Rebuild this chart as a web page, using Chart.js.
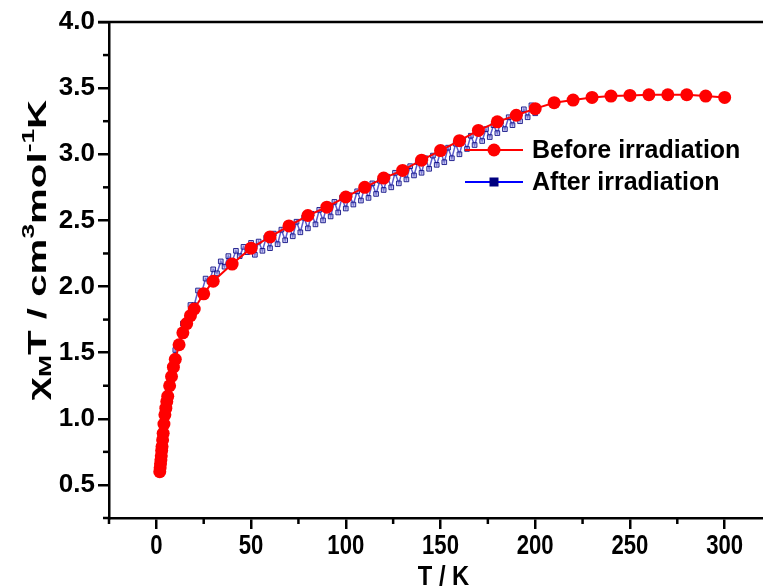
<!DOCTYPE html>
<html>
<head>
<meta charset="utf-8">
<script src="https://cdn.jsdelivr.net/npm/chart.js@4.4.0/dist/chart.umd.min.js"></script>
<style>
html, body { margin: 0; padding: 0; background: #fff; overflow: hidden; }
canvas { display: block; }
</style>
</head>
<body>
<canvas id="myChart" width="790" height="587"></canvas>
<script>
// chi_M T data
var tBefore = [1.8, 2, 2.2, 2.4, 2.6, 2.8, 3, 3.3, 3.6, 4, 4.5, 5, 5.5, 6, 7, 8, 9, 10, 12, 14, 16, 18, 20, 25, 30, 40,
    50, 60, 70, 80, 90, 100, 110, 120, 130, 140, 150, 160, 170, 180, 190, 200, 210, 220, 230, 240, 250, 260, 270, 280, 290, 300];
var chiBefore = [0.60, 0.63, 0.66, 0.69, 0.72, 0.76, 0.79, 0.84, 0.89, 0.96, 1.03, 1.08, 1.13, 1.17, 1.25, 1.32, 1.39, 1.45, 1.56, 1.65, 1.72, 1.78, 1.83, 1.945, 2.04, 2.17,
    2.29, 2.375, 2.458, 2.537, 2.60, 2.677, 2.75, 2.82, 2.878, 2.955, 3.028, 3.103, 3.18, 3.245, 3.295, 3.345, 3.39, 3.41, 3.43, 3.44, 3.445, 3.45, 3.45, 3.45, 3.44, 3.43];

var tAfter = [2, 2.5, 3, 3.5, 4, 4.5, 5, 5.5, 6, 6.5, 7, 7.5, 8, 8.5, 9, 9.5, 10,
    12, 14, 16, 18, 20, 22, 24, 26, 28, 30, 32, 34, 36, 38, 40, 42, 44, 46, 48, 50,
    52, 54, 56, 58, 60, 62, 64, 66, 68, 70, 72, 74, 76, 78, 80, 82, 84, 86, 88, 90,
    92, 94, 96, 98, 100, 102, 104, 106, 108, 110, 112, 114, 116, 118, 120, 122, 124, 126, 128, 130,
    132, 134, 136, 138, 140, 142, 144, 146, 148, 150, 152, 154, 156, 158, 160, 162, 164, 166, 168, 170,
    172, 174, 176, 178, 180, 182, 184, 186, 188, 190, 192, 194, 196, 198, 200];
var chiAfter = [0.64, 0.70, 0.82, 0.85, 0.98, 0.99, 1.11, 1.11, 1.21, 1.21, 1.30, 1.29, 1.38, 1.37, 1.46, 1.44, 1.52,
    1.58, 1.72, 1.73, 1.86, 1.86, 1.97, 1.96, 2.06, 2.04, 2.13, 2.10, 2.19, 2.15, 2.23, 2.19, 2.27, 2.23, 2.30, 2.26, 2.33,
    2.24, 2.34, 2.27, 2.37, 2.29, 2.40, 2.32, 2.43, 2.35, 2.46, 2.38, 2.49, 2.41, 2.52, 2.44, 2.55, 2.47, 2.58, 2.50, 2.61,
    2.53, 2.64, 2.56, 2.67, 2.59, 2.69, 2.62, 2.72, 2.65, 2.75, 2.67, 2.78, 2.70, 2.80, 2.73, 2.83, 2.75, 2.86, 2.78, 2.88,
    2.81, 2.91, 2.84, 2.94, 2.86, 2.97, 2.89, 2.99, 2.92, 3.02, 2.94, 3.05, 2.97, 3.08, 3.00, 3.11, 3.04, 3.14, 3.07, 3.16,
    3.10, 3.19, 3.13, 3.22, 3.16, 3.25, 3.19, 3.28, 3.22, 3.31, 3.25, 3.34, 3.28, 3.37, 3.31];

var xTickLabels = [0, 50, 100, 150, 200, 250, 300];
var yTickLabels = [0.5, 1.0, 1.5, 2.0, 2.5, 3.0, 3.5, 4.0];
var seriesNames = ['Before irradiation', 'After irradiation'];

function toPoints(xs, ys) {
    var pts = [];
    for (var i = 0; i < xs.length; i++) pts.push({x: xs[i], y: ys[i]});
    return pts;
}
function isLabel(list, v) {
    for (var i = 0; i < list.length; i++) if (Math.abs(list[i] - v) < 1e-6) return true;
    return false;
}

var sansFont = '"Liberation Sans", Arial, sans-serif';

// narrow-looking text: squeeze horizontally
function narrowText(ctx, text, x, y, size, squeeze) {
    ctx.save();
    ctx.font = 'bold ' + size + 'px ' + sansFont;
    ctx.textAlign = 'center';
    ctx.textBaseline = 'alphabetic';
    ctx.translate(x, y);
    ctx.scale(squeeze, 1);
    ctx.fillText(text, 0, 0);
    ctx.restore();
}

// minor ticks, box top line, x tick labels, axis titles and the legend
var decorations = {
    id: 'decorations',
    afterDraw: function (chart) {
        var ctx = chart.ctx, a = chart.chartArea;
        var xs = chart.scales.x, ys = chart.scales.y;
        ctx.save();
        ctx.strokeStyle = '#000';
        ctx.lineWidth = 2.5;
        ctx.beginPath();
        ctx.moveTo(a.left - 11, a.top);
        ctx.lineTo(a.right, a.top);
        ctx.stroke();
        xs.ticks.forEach(function (t) {
            if (isLabel(xTickLabels, t.value)) return;
            var px = xs.getPixelForValue(t.value);
            ctx.beginPath(); ctx.moveTo(px, a.bottom); ctx.lineTo(px, a.bottom + 6); ctx.stroke();
        });
        ys.ticks.forEach(function (t) {
            if (isLabel(yTickLabels, t.value)) return;
            var py = ys.getPixelForValue(t.value);
            ctx.beginPath(); ctx.moveTo(a.left, py); ctx.lineTo(a.left - 6, py); ctx.stroke();
        });
        ctx.fillStyle = '#000';
        xTickLabels.forEach(function (v) {
            narrowText(ctx, String(v), xs.getPixelForValue(v), 554, 27, 0.82);
        });
        narrowText(ctx, 'T / K', (a.left + a.right) / 2 + 3, 585, 27, 0.88);

        // y title with sub/superscripts, stretched along its length
        var parts = [['\u03c7', 0], ['M', 1], ['T / cm', 0], ['3', 2], ['mol', 0], ['-1', 2], ['K', 0]];
        var big = 'bold 26px ' + sansFont, small = 'bold 17px ' + sansFont;
        var w = 0;
        parts.forEach(function (p) { ctx.font = p[1] ? small : big; w += ctx.measureText(p[0]).width; });
        ctx.translate(46, 250);
        ctx.rotate(-Math.PI / 2);
        ctx.scale(1.55, 1);
        ctx.textAlign = 'left';
        ctx.textBaseline = 'alphabetic';
        var x = -w / 2;
        parts.forEach(function (p) {
            ctx.font = p[1] ? small : big;
            var dy = p[1] === 1 ? 5 : (p[1] === 2 ? -12 : 0);
            ctx.fillText(p[0], x, dy);
            x += ctx.measureText(p[0]).width;
        });
        ctx.restore();

        // legend
        ctx.save();
        ctx.font = 'bold 25px ' + sansFont;
        ctx.textBaseline = 'middle';
        var rows = [150, 182];
        ctx.lineWidth = 2;
        ctx.strokeStyle = '#ff0000';
        ctx.beginPath(); ctx.moveTo(465, rows[0]); ctx.lineTo(523, rows[0]); ctx.stroke();
        ctx.fillStyle = '#ff0000';
        ctx.beginPath(); ctx.arc(494, rows[0], 6.5, 0, Math.PI * 2); ctx.fill();
        ctx.strokeStyle = '#0000ff';
        ctx.beginPath(); ctx.moveTo(465, rows[1]); ctx.lineTo(523, rows[1]); ctx.stroke();
        ctx.fillStyle = '#000080';
        ctx.fillRect(489.5, rows[1] - 4.5, 9, 9);
        ctx.fillStyle = '#000';
        ctx.fillText(seriesNames[0], 532, rows[0] + 1);
        ctx.fillText(seriesNames[1], 532, rows[1] + 1);
        ctx.restore();
    }
};

var ctx = document.getElementById('myChart').getContext('2d');
var myChart = new Chart(ctx, {
    type: 'scatter',
    data: {
        datasets: [{
            label: seriesNames[0],
            data: toPoints(tBefore, chiBefore),
            showLine: true,
            borderColor: '#ff0000',
            borderWidth: 2,
            pointStyle: 'circle',
            pointRadius: 6.5,
            pointBackgroundColor: '#ff0000',
            pointBorderWidth: 0
        }, {
            label: seriesNames[1],
            data: toPoints(tAfter, chiAfter),
            showLine: true,
            borderColor: 'rgba(50,50,190,0.8)',
            borderWidth: 1.5,
            pointStyle: 'rect',
            pointRadius: 3.3,
            pointBorderColor: 'rgba(10,10,130,0.85)',
            pointBackgroundColor: 'rgba(150,150,225,0.5)',
            pointBorderWidth: 1
        }]
    },
    options: {
        responsive: false,
        animation: false,
        devicePixelRatio: 1,
        layout: { padding: { top: 22, right: 18, left: 0, bottom: 0 } },
        plugins: { legend: { display: false }, tooltip: { enabled: false } },
        scales: {
            x: {
                type: 'linear',
                min: -25,
                max: 325,
                afterFit: function (s) { s.height = 69; },
                border: { color: '#000', width: 2.5 },
                grid: {
                    drawOnChartArea: false,
                    tickLength: 11,
                    lineWidth: 2.5,
                    color: function (c) { return c.tick && isLabel(xTickLabels, c.tick.value) ? '#000' : 'rgba(0,0,0,0)'; }
                },
                ticks: {
                    stepSize: 25,
                    autoSkip: false,
                    maxRotation: 0,
                    color: 'rgba(0,0,0,0)',
                    font: { family: sansFont, size: 26, weight: 'bold' },
                    callback: function (v) { return isLabel(xTickLabels, v) ? String(v) : ''; }
                }
            },
            y: {
                type: 'linear',
                min: 0.25,
                max: 4.0,
                afterFit: function (s) { s.width = 109; },
                border: { color: '#000', width: 2.5 },
                grid: {
                    drawOnChartArea: false,
                    tickLength: 11,
                    lineWidth: 2.5,
                    color: function (c) { return c.tick && isLabel(yTickLabels, c.tick.value) ? '#000' : 'rgba(0,0,0,0)'; }
                },
                ticks: {
                    stepSize: 0.25,
                    autoSkip: false,
                    padding: 3,
                    color: '#000',
                    font: { family: sansFont, size: 26, weight: 'bold' },
                    callback: function (v) { return isLabel(yTickLabels, v) ? v.toFixed(1) : ''; }
                }
            }
        }
    },
    plugins: [decorations]
});
</script>
</body>
</html>
